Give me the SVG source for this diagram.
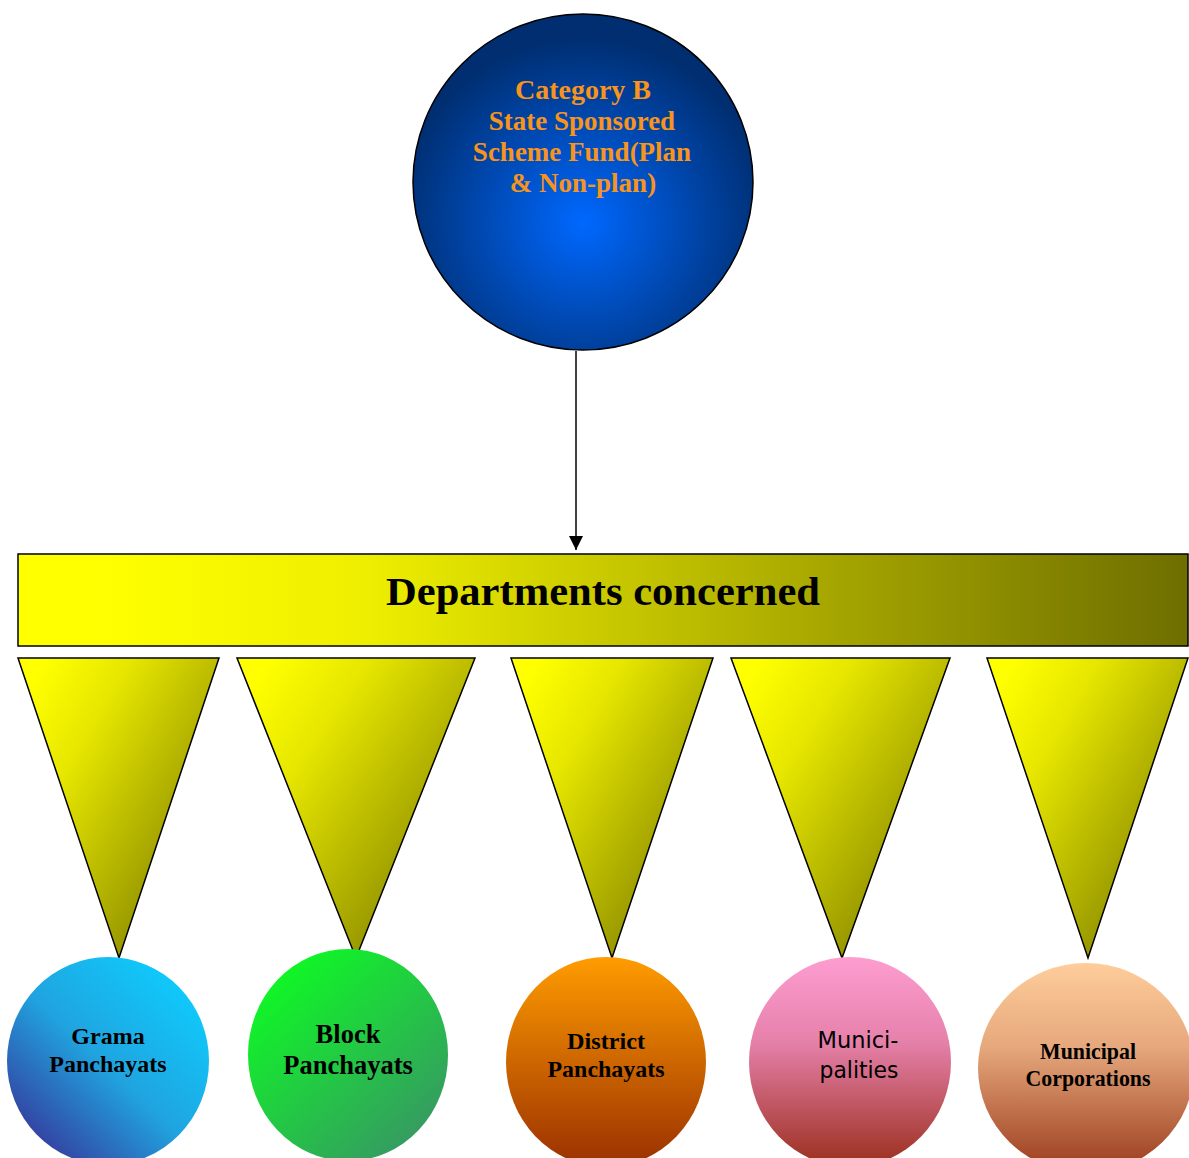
<svg xmlns="http://www.w3.org/2000/svg" width="1189" height="1158" viewBox="0 0 1189 1158">
<defs>
<radialGradient id="gTop" cx="0.5" cy="0.62" r="0.55">
<stop offset="0" stop-color="#0068ff"/>
<stop offset="1" stop-color="#002e70"/>
</radialGradient>
<linearGradient id="gRect" x1="0" y1="0" x2="1" y2="0">
<stop offset="0.07" stop-color="#ffff00"/>
<stop offset="0.3" stop-color="#eeee00"/>
<stop offset="1" stop-color="#6e6e00"/>
</linearGradient>
<linearGradient id="gTri" x1="0.1" y1="0.05" x2="0.9" y2="0.75">
<stop offset="0" stop-color="#ffff00"/>
<stop offset="0.3" stop-color="#e6e600"/>
<stop offset="1" stop-color="#878700"/>
</linearGradient>
<linearGradient id="gGrama" x1="0.85" y1="0.15" x2="0.15" y2="0.9">
<stop offset="0" stop-color="#10c8fa"/>
<stop offset="0.5" stop-color="#20a4e0"/>
<stop offset="1" stop-color="#3440a0"/>
</linearGradient>
<linearGradient id="gBlock" x1="0.15" y1="0.1" x2="0.85" y2="0.9">
<stop offset="0" stop-color="#0ff825"/>
<stop offset="1" stop-color="#369a62"/>
</linearGradient>
<linearGradient id="gDist" x1="0" y1="0" x2="0" y2="1">
<stop offset="0" stop-color="#ff9c00"/>
<stop offset="1" stop-color="#9a3000"/>
</linearGradient>
<linearGradient id="gMun" x1="0" y1="0" x2="0" y2="1">
<stop offset="0" stop-color="#fd9dd0"/>
<stop offset="0.4" stop-color="#e681ab"/>
<stop offset="1" stop-color="#9a2e1c"/>
</linearGradient>
<linearGradient id="gCorp" x1="0" y1="0" x2="0" y2="1">
<stop offset="0" stop-color="#fecd9b"/>
<stop offset="0.4" stop-color="#e6a87c"/>
<stop offset="1" stop-color="#9a3a1c"/>
</linearGradient>
<marker id="arr" viewBox="0 0 10 10" refX="10" refY="5" markerWidth="14" markerHeight="14" markerUnits="userSpaceOnUse" orient="auto">
<path d="M0,0 L10,5 L0,10 z" fill="#000"/>
</marker>
</defs>
<style>
.ser{font-family:"Liberation Serif","Times New Roman",serif;font-weight:bold;text-anchor:middle}
.san{font-family:"DejaVu Sans Condensed","DejaVu Sans",sans-serif;text-anchor:middle}
.tri{fill:url(#gTri);stroke:#000;stroke-width:1.5}
</style>
<g id="connectors">
<line x1="576" y1="351" x2="576" y2="550" stroke="#000" stroke-width="1.5" marker-end="url(#arr)"/>
</g>
<g id="top">
<ellipse cx="583" cy="182" rx="170" ry="168" fill="url(#gTop)" stroke="#000" stroke-width="1.5"/>
<text class="ser" fill="#f7941d" font-size="28" x="583" y="99">Category B</text>
<text class="ser" fill="#f7941d" font-size="27" x="582" y="130">State Sponsored</text>
<text class="ser" fill="#f7941d" font-size="27" x="582" y="161">Scheme Fund(Plan</text>
<text class="ser" fill="#f7941d" font-size="27" x="583" y="192">&amp; Non-plan)</text>
</g>
<g id="departments">
<rect x="18" y="554" width="1170" height="92" fill="url(#gRect)" stroke="#000" stroke-width="1.5"/>
<text class="ser" font-size="40" x="603" y="605" textLength="434" lengthAdjust="spacingAndGlyphs">Departments concerned</text>
</g>
<g id="triangles">
<polygon class="tri" points="18,658 219,658 119,958"/>
<polygon class="tri" points="237,658 475,658 356,958"/>
<polygon class="tri" points="511,658 713,658 612,958"/>
<polygon class="tri" points="731,658 950,658 842,958"/>
<polygon class="tri" points="987,658 1188,658 1088,958"/>
</g>
<g id="grama">
<ellipse cx="108" cy="1061" rx="101" ry="104" fill="url(#gGrama)"/>
<text class="ser" font-size="24" x="108" y="1044">Grama</text>
<text class="ser" font-size="24" x="108" y="1072">Panchayats</text>
</g>
<g id="block">
<ellipse cx="348" cy="1055" rx="100" ry="106" fill="url(#gBlock)"/>
<text class="ser" font-size="26.5" x="348" y="1043">Block</text>
<text class="ser" font-size="26.5" x="348" y="1074">Panchayats</text>
</g>
<g id="district">
<ellipse cx="606" cy="1062" rx="100" ry="105" fill="url(#gDist)"/>
<text class="ser" font-size="23" x="606" y="1049" textLength="78" lengthAdjust="spacingAndGlyphs">District</text>
<text class="ser" font-size="23" x="606" y="1077" textLength="117" lengthAdjust="spacingAndGlyphs">Panchayats</text>
</g>
<g id="municipalities">
<ellipse cx="850" cy="1062" rx="101" ry="105" fill="url(#gMun)"/>
<text class="san" font-size="23" x="858" y="1048" textLength="81" lengthAdjust="spacingAndGlyphs">Munici-</text>
<text class="san" font-size="23" x="859" y="1078" textLength="79" lengthAdjust="spacingAndGlyphs">palities</text>
</g>
<g id="corporations">
<ellipse cx="1086" cy="1068" rx="108" ry="105" fill="url(#gCorp)"/>
<text class="ser" font-size="23" x="1088" y="1059" textLength="96" lengthAdjust="spacingAndGlyphs">Municipal</text>
<text class="ser" font-size="23" x="1088" y="1086" textLength="125" lengthAdjust="spacingAndGlyphs">Corporations</text>
</g>
</svg>
